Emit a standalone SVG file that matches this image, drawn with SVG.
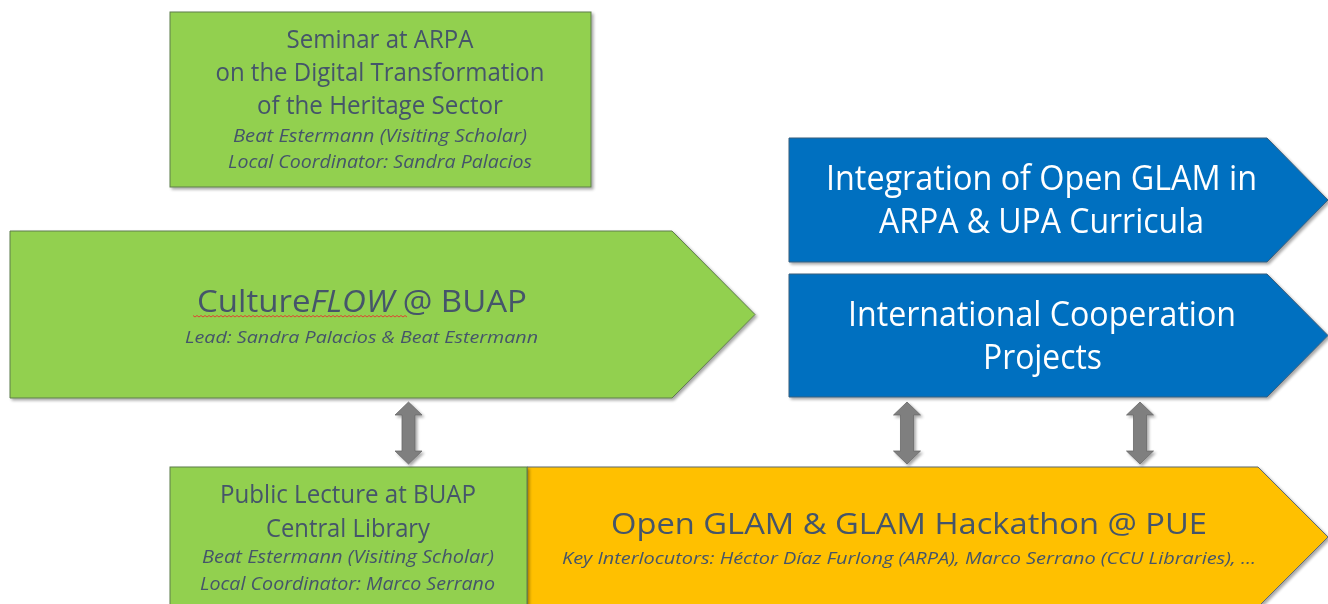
<svg xmlns="http://www.w3.org/2000/svg" width="1328" height="604" viewBox="0 0 1328 604">
  <defs>
    <filter id="shadow" x="-5%" y="-5%" width="112%" height="115%">
      <feGaussianBlur in="SourceAlpha" stdDeviation="1.5"/>
      <feOffset dx="1.5" dy="2" result="off"/>
      <feComponentTransfer><feFuncA type="linear" slope="0.35"/></feComponentTransfer>
      <feMerge><feMergeNode/><feMergeNode in="SourceGraphic"/></feMerge>
    </filter>
    <!-- vertical double-headed block arrow, centred on x=0, tips at y=0 and y=62 -->
    <path id="dblArrow" d="M0 0 L13.5 13 L6.5 13 L6.5 49 L13.5 49 L0 62 L-13.5 49 L-6.5 49 L-6.5 13 L-13.5 13 Z"/>
  </defs>
  <style>
    .green { fill: #92D050; stroke: #5E7D4A; stroke-width: 1; }
    .blue { fill: #0070C0; stroke: #3A5F7D; stroke-width: 1; }
    .orange { fill: #FFC000; stroke: #5E6A6E; stroke-width: 1; }
    .arrow { fill: #7F7F7F; stroke: #6A6A6A; stroke-width: 0.8; }
    text { font-family: "Open Sans", "Liberation Sans", sans-serif; text-anchor: middle; }
    .dark { fill: #44546A; }
    .light { fill: #FFFFFF; }
    .it { font-style: italic; }
  </style>

  <!-- Seminar at ARPA -->
  <g id="seminar" filter="url(#shadow)">
    <rect class="green" x="170" y="12" width="421" height="175"/>
    <text class="dark" x="380" y="48" font-size="25" textLength="187" lengthAdjust="spacingAndGlyphs">Seminar at ARPA</text>
    <text class="dark" x="380" y="81" font-size="25" textLength="329" lengthAdjust="spacingAndGlyphs">on the Digital Transformation</text>
    <text class="dark" x="380" y="114" font-size="25" textLength="246" lengthAdjust="spacingAndGlyphs">of the Heritage Sector</text>
    <text class="dark it" x="380" y="141.5" font-size="18.5" textLength="294" lengthAdjust="spacingAndGlyphs">Beat Estermann (Visiting Scholar)</text>
    <text class="dark it" x="380" y="168" font-size="18.5" textLength="304" lengthAdjust="spacingAndGlyphs">Local Coordinator: Sandra Palacios</text>
  </g>

  <!-- CultureFLOW @ BUAP -->
  <g id="cultureflow" filter="url(#shadow)">
    <polygon class="green" points="10,231 672,231 755,314.5 672,398 10,398"/>
    <text class="dark" x="362" y="312" font-size="31" textLength="330" lengthAdjust="spacingAndGlyphs">Culture<tspan class="it">FLOW</tspan> @ BUAP</text>
    <path d="M193 315.5 l2 1.5 l2 -1.5 l2 1.5 l2 -1.5 l2 1.5 l2 -1.5 l2 1.5 l2 -1.5 l2 1.5 l2 -1.5 l2 1.5 l2 -1.5 l2 1.5 l2 -1.5 l2 1.5 l2 -1.5 l2 1.5 l2 -1.5 l2 1.5 l2 -1.5 l2 1.5 l2 -1.5 l2 1.5 l2 -1.5 l2 1.5 l2 -1.5 l2 1.5 l2 -1.5 l2 1.5 l2 -1.5 l2 1.5 l2 -1.5 l2 1.5 l2 -1.5 l2 1.5 l2 -1.5 l2 1.5 l2 -1.5 l2 1.5 l2 -1.5 l2 1.5 l2 -1.5 l2 1.5 l2 -1.5 l2 1.5 l2 -1.5 l2 1.5 l2 -1.5 l2 1.5 l2 -1.5 l2 1.5 l2 -1.5 l2 1.5 l2 -1.5 l2 1.5 l2 -1.5 l2 1.5 l2 -1.5 l2 1.5 l2 -1.5 l2 1.5 l2 -1.5 l2 1.5 l2 -1.5 l2 1.5 l2 -1.5 l2 1.5 l2 -1.5 l2 1.5 l2 -1.5 l2 1.5 l2 -1.5 l2 1.5 l2 -1.5 l2 1.5 l2 -1.5 l2 1.5 l2 -1.5 l2 1.5 l2 -1.5 l2 1.5 l2 -1.5 l2 1.5 l2 -1.5 l2 1.5 l2 -1.5 l2 1.5 l2 -1.5 l2 1.5 l2 -1.5 l2 1.5 l2 -1.5 l2 1.5 l2 -1.5 l2 1.5 l2 -1.5 l2 1.5 l2 -1.5 l2 1.5 l2 -1.5 l2 1.5 l2 -1.5 l2 1.5 l2 -1.5 l2 1.5 l2 -1.5 l2 1.5" fill="none" stroke="#E8322F" stroke-width="0.9"/>
    <text class="dark it" x="361.5" y="343" font-size="17" textLength="353" lengthAdjust="spacingAndGlyphs">Lead: Sandra Palacios &amp; Beat Estermann</text>
  </g>

  <!-- Integration of Open GLAM in ARPA & UPA Curricula -->
  <g id="integration" filter="url(#shadow)">
    <polygon class="blue" points="789,138 1267,138 1328,200 1267,262 789,262"/>
    <text class="light" x="1041.5" y="189.5" font-size="34" textLength="431" lengthAdjust="spacingAndGlyphs">Integration of Open GLAM in</text>
    <text class="light" x="1041.5" y="232.5" font-size="34" textLength="325" lengthAdjust="spacingAndGlyphs">ARPA &amp; UPA Curricula</text>
  </g>

  <!-- International Cooperation Projects -->
  <g id="cooperation" filter="url(#shadow)">
    <polygon class="blue" points="789,274 1267,274 1328,335.5 1267,397 789,397"/>
    <text class="light" x="1042" y="325.5" font-size="34" textLength="388" lengthAdjust="spacingAndGlyphs">International Cooperation</text>
    <text class="light" x="1042.5" y="369" font-size="34" textLength="119" lengthAdjust="spacingAndGlyphs">Projects</text>
  </g>

  <!-- Open GLAM & GLAM Hackathon @ PUE -->
  <g id="hackathon" filter="url(#shadow)">
    <polygon class="orange" points="527,467 1258,467 1328,537 1258,607 527,607"/>
    <text class="dark" x="909" y="534" font-size="29.5" textLength="596" lengthAdjust="spacingAndGlyphs">Open GLAM &amp; GLAM Hackathon @ PUE</text>
    <text class="dark it" x="909" y="564" font-size="17" textLength="694" lengthAdjust="spacingAndGlyphs">Key Interlocutors: Héctor Díaz Furlong (ARPA), Marco Serrano (CCU Libraries), …</text>
  </g>

  <!-- Public Lecture at BUAP Central Library -->
  <g id="lecture" filter="url(#shadow)">
    <rect class="green" x="170" y="467" width="357" height="145"/>
    <text class="dark" x="348" y="503" font-size="25" textLength="256" lengthAdjust="spacingAndGlyphs">Public Lecture at BUAP</text>
    <text class="dark" x="348" y="537" font-size="25" textLength="164" lengthAdjust="spacingAndGlyphs">Central Library</text>
    <text class="dark it" x="348" y="563" font-size="18.5" textLength="292" lengthAdjust="spacingAndGlyphs">Beat Estermann (Visiting Scholar)</text>
    <text class="dark it" x="347.5" y="590" font-size="18.5" textLength="295" lengthAdjust="spacingAndGlyphs">Local Coordinator: Marco Serrano</text>
  </g>

  <!-- connectors: two-way links between the rows -->
  <g id="connectors" filter="url(#shadow)">
    <use href="#dblArrow" class="arrow" x="408.5" y="402"/>
    <use href="#dblArrow" class="arrow" x="907" y="402"/>
    <use href="#dblArrow" class="arrow" x="1140" y="402"/>
  </g>
</svg>
